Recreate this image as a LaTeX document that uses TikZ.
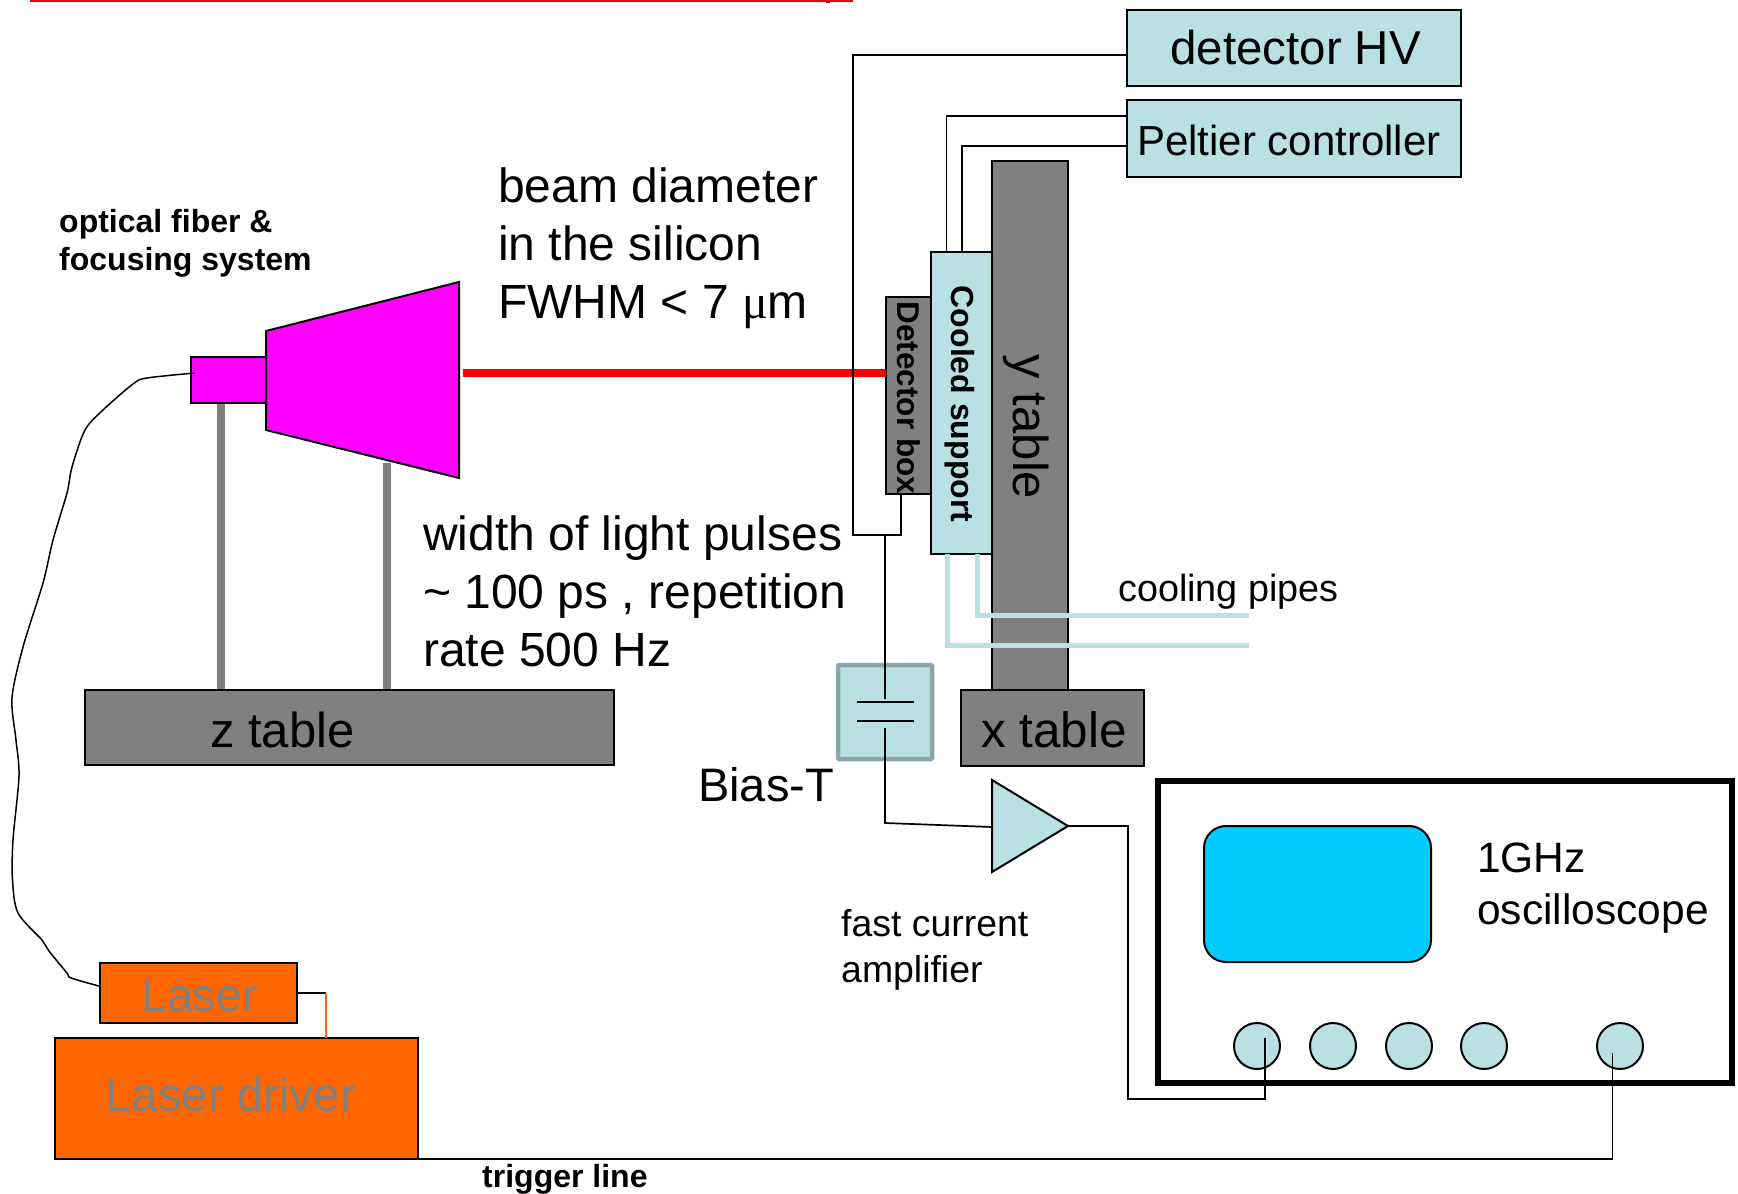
\documentclass[tikz,border=0pt]{standalone}
\usepackage{fontspec}
\setmainfont{Liberation Sans}
\newfontfamily\serifmu{Liberation Serif}
\definecolor{lightb}{HTML}{B9E0E3}
\definecolor{biasb}{HTML}{8AA6A8}
\definecolor{midgray}{HTML}{808080}
\definecolor{orng}{HTML}{FF6600}
\definecolor{scr}{HTML}{00CCFF}
\definecolor{mag}{HTML}{FF00FF}
\definecolor{topred}{HTML}{DD0A0A}
\newcommand{\fs}[1]{\fontsize{#1}{#1}\selectfont}
\tikzset{
  x=1pt,y=-1pt,
  box/.style={draw=black,line width=2pt,fill=#1,inner sep=0pt,outer sep=0pt},
  wire/.style={draw=black,line width=1.7pt,line join=miter},
  pipe/.style={draw=lightb,line width=5pt,line join=miter},
  post/.style={draw=midgray,line width=8pt},
  lab/.style={inner sep=0pt,anchor=base west,align=left,text=black},
  port/.style={circle,draw=black,line width=2pt,fill=lightb,minimum size=46pt,inner sep=0pt},
}
\newcommand{\rectnode}[6]{% name,x0,y0,x1,y1,style
  \node[box=#6,minimum width=#4pt-#2pt,minimum height=#5pt-#3pt,anchor=north west] (#1) at (#2,#3) {};}
\begin{document}
\begin{tikzpicture}
\useasboundingbox (0,0) rectangle (1738,1194);
% top red line
\coordinate (ta) at (30,0.5); \coordinate (tb) at (853,0.5);
\draw[topred,line width=3pt] (ta) -- (tb);
\fill[topred] (826,0) rectangle (830,3);
% posts
\coordinate (p1a) at (221,403); \coordinate (p1b) at (221,690);
\coordinate (p2a) at (387,463); \coordinate (p2b) at (387,690);
\draw[post] (p1a) -- (p1b);
\draw[post] (p2a) -- (p2b);
% z table
\rectnode{ztable}{85}{690}{614}{765}{midgray}
\node[lab,font=\fs{49}] (zt) at (210,747) {z table};
% focusing
\rectnode{fib}{191}{357}{266}{403}{mag}
\draw[black,line width=2pt,fill=mag] (266,331) coordinate (f1) -- (459,282) coordinate (f2) -- (459,478) coordinate (f3) -- (266,430) coordinate (f4) -- cycle;
% beam
\coordinate (be) at (463,373);
% tables
\rectnode{ytable}{992}{161}{1068}{690}{midgray}
\rectnode{cool}{931}{252}{992}{554}{lightb}
\rectnode{dbox}{886}{297}{931}{494}{midgray}
\rectnode{xtable}{961}{690}{1144}{766}{midgray}
\node[lab,font=\fs{49.5}] (xt) at (981,747) {x table};
\draw[red,line width=8pt] (be) -- (dbox.west |- be);
% pipes
\coordinate (c1) at (947,554); \coordinate (c2) at (977,554);
\coordinate (c3) at (1249,645); \coordinate (c4) at (1249,615);
\draw[pipe] (c1) -- (947,645) -- (c3);
\draw[pipe] (c2) -- (977,615) -- (c4);
% text in tables
\node[rotate=-90,font=\fs{49}] (yt) at (1026,427) {y table};
\node[rotate=-90,font=\bfseries\fs{32}] (ct) at (960,404) {Cooled support};
\node[rotate=-90,font=\bfseries\fs{31.5}] (dt) at (909,398) {Detector box};
% HV and Peltier
\rectnode{hv}{1127}{10}{1461}{86}{lightb}
\rectnode{pelt}{1127}{100}{1461}{177}{lightb}
\node[lab,font=\fs{47.5}] (hvt) at (1170,64) {detector HV};
\node[lab,font=\fs{42}] (pt) at (1137,155) {Peltier controller};
\coordinate (hvw) at (hv.west |- 0,55);
\coordinate (pw1) at (pelt.west |- 0,116);
\coordinate (pw2) at (pelt.west |- 0,146);
\coordinate (dw) at (901,494);
\draw[wire] (hvw) -- (853,55) -- (853,535) -- (901,535) -- (dw);
\draw[wire] (pw1) -- (946.5,116) -- (946.5,252);
\draw[wire] (pw2) -- (962,146) -- (962,252);
% Bias-T
\rectnode{bias}{838}{665}{932}{759}{lightb}
\draw[biasb,line width=4.5pt,rounded corners=1pt] (bias.north west) rectangle (bias.south east);
\coordinate (cap1l) at (857,702); \coordinate (cap1r) at (914,702);
\coordinate (cap2l) at (857,721); \coordinate (cap2r) at (914,721);
\draw[wire] (cap1l) -- (cap1r);
\draw[wire] (cap2l) -- (cap2r);
% amplifier
\draw[black,line width=2pt,fill=lightb] (992,780) coordinate (a1) -- (1068,826) coordinate (atip) -- (992,872) coordinate (a2) -- cycle;
\coordinate (ain) at (992,827);
\coordinate (c5) at (885,535); \coordinate (c6) at (885,699); \coordinate (c7) at (885,728);
\draw[wire] (c5) -- (c6);
\draw[wire] (c7) -- (885,823) -- (ain);
% scope
\rectnode{scope}{1158}{781}{1732}{1083}{white}
\draw[black,line width=6pt] (scope.north west) rectangle (scope.south east);
\draw[black,line width=2pt,fill=scr,rounded corners=22pt] (1204,826) coordinate (s1) rectangle (1431,962) coordinate (s2);
\node[port] (ch1) at (1257,1046) {};
\node[port] (ch2) at (1333,1046) {};
\node[port] (ch3) at (1409,1046) {};
\node[port] (ch4) at (1484,1046) {};
\node[port] (ch5) at (1620,1046) {};
\coordinate (ch1p) at (1265,1038);
\coordinate (ch5p) at (1612.5,1053);
\draw[wire] (atip) -- (1128,826) -- (1128,1099) -- (1265,1099) -- (ch1p);
% laser
\rectnode{laser}{100}{963}{297}{1023}{orng}
\rectnode{driver}{55}{1038}{418}{1159}{orng}
\node[lab,font=\fs{46.5},text=midgray] (lt) at (141,1011) {Laser};
\node[lab,font=\fs{47.5},text=midgray] (ldt) at (105,1111) {Laser driver};
\coordinate (l1) at (297,993); \coordinate (l2) at (326,993); \coordinate (l3) at (326,1038);
\draw[wire] (l1) -- (l2);
\draw[orng,line width=2pt] (l2) -- (l3);
\draw[wire] (driver.south east) -- (1612.5,1159) -- (ch5p);
% fiber
\draw[black,line width=1.5pt] plot[smooth,tension=0.5] coordinates {(195,373) (147,378) (133,384) (103,410) (85,430) (72,467) (67,493) (53,540) (43,583) (23,647) (12,698) (16,740) (19,776) (13,840) (12.5,880) (18,913) (42,940) (49,951) (67,973) (71,978) (99,986)};
% labels
\node[lab,font=\bfseries\fs{32},anchor=north west,align=left] (ol) at (59,209) {optical fiber \&\\[6pt]focusing system};
\node[lab,font=\fs{48},anchor=north west] (bl) at (498,168) {beam diameter\\[10pt]in the silicon\\[10pt]FWHM < 7 {\serifmu μ}m};
\node[lab,font=\fs{48},anchor=north west] (wl) at (423,516) {width of light pulses\\[10pt]\textasciitilde{} 100 ps , repetition\\[10pt]rate 500 Hz};
\node[lab,font=\fs{37.8}] (cl) at (1118,601) {cooling pipes};
\node[lab,font=\fs{47}] (bt) at (698,801) {Bias-T};
\node[lab,font=\fs{37.4},anchor=north west] (fl) at (841,909) {fast current\\[9pt]amplifier};
\node[lab,font=\fs{42.5},anchor=north west] (sl) at (1477,843) {1GHz\\[9pt]oscilloscope};
\node[lab,font=\bfseries\fs{32}] (tl) at (482,1187) {trigger line};
\end{tikzpicture}
\end{document}
